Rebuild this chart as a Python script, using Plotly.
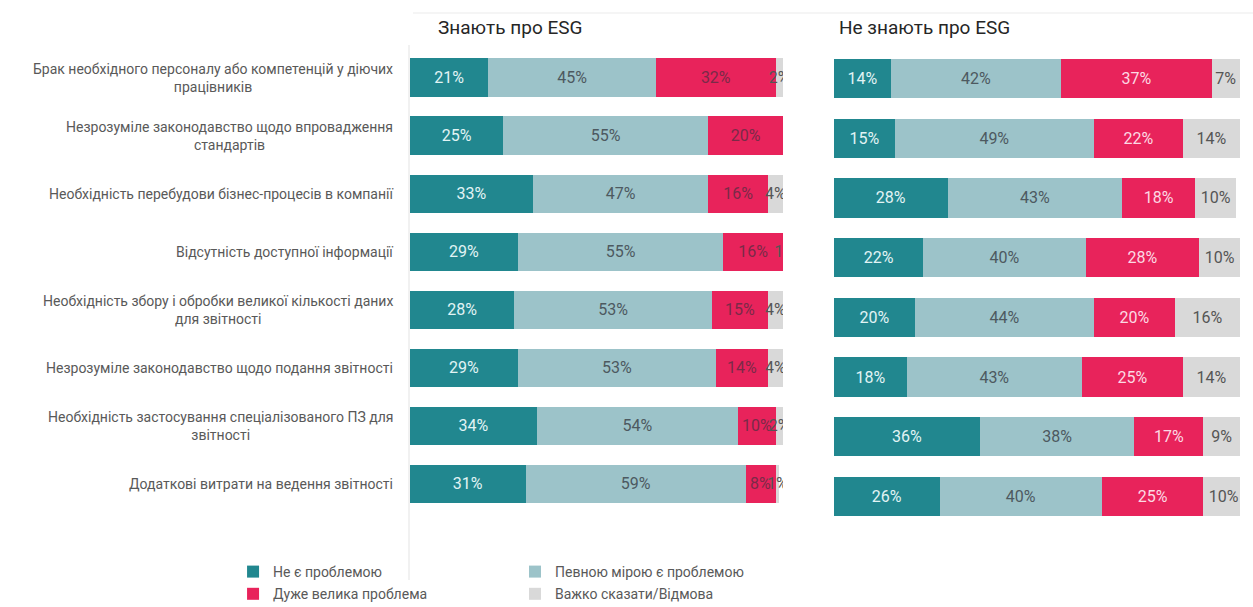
import plotly.graph_objects as go

# Survey: obstacles to ESG reporting, split by awareness of ESG
categories = [
    "Брак необхідного персоналу або компетенцій у діючих<br>працівників",
    "Незрозуміле законодавство щодо впровадження<br>стандартів",
    "Необхідність перебудови бізнес-процесів в компанії",
    "Відсутність доступної інформації",
    "Необхідність збору і обробки великої кількості даних<br>для звітності",
    "Незрозуміле законодавство щодо подання звітності",
    "Необхідність застосування спеціалізованого ПЗ для<br>звітності",
    "Додаткові витрати на ведення звітності",
]

series_names = [
    "Не є проблемою",
    "Певною мірою є проблемою",
    "Дуже велика проблема",
    "Важко сказати/Відмова",
]

panel_titles = ["Знають про ESG", "Не знають про ESG"]

# Aware of ESG (%)
aware_not_problem = [21, 25, 33, 29, 28, 29, 34, 31]
aware_partly = [45, 55, 47, 55, 53, 53, 54, 59]
aware_big = [32, 20, 16, 16, 15, 14, 10, 8]
aware_hard = [2, 0, 4, 1, 4, 4, 2, 1]

# Not aware of ESG (%)
unaware_not_problem = [14, 15, 28, 22, 20, 18, 36, 26]
unaware_partly = [42, 49, 43, 40, 44, 43, 38, 40]
unaware_big = [37, 22, 18, 28, 20, 25, 17, 25]
unaware_hard = [7, 14, 10, 10, 16, 14, 9, 10]

colors = ["#21878f", "#9cc3c9", "#e8235b", "#d9d9d9"]
text_colors_left = ["#e2f4f5", "#4d5960", "#7a2a48", "#555555"]
text_colors_right = ["#e2f4f5", "#4d5960", "#fcd9e3", "#555555"]

FONT = "Roboto, 'Open Sans', sans-serif"
W, H = 1253, 607


def px_x(px):
    """Paper x fraction for a pixel column."""
    return px / W


def py(px):
    """Paper y fraction for a pixel row measured from the top."""
    return 1 - px / H


fig = go.Figure()

panels = [
    ([aware_not_problem, aware_partly, aware_big, aware_hard], "x", "y", text_colors_left, True),
    ([unaware_not_problem, unaware_partly, unaware_big, unaware_hard], "x2", "y2", text_colors_right, False),
]

legend_ids = ["legend", "legend2", "legend", "legend2"]

for values, xa, ya, tcolors, show in panels:
    for i, (name, vals) in enumerate(zip(series_names, values)):
        fig.add_trace(go.Bar(
            y=categories,
            x=vals,
            name=name,
            orientation="h",
            marker=dict(color=colors[i], line=dict(width=0)),
            text=[f"{v}%" if v > 0 else "" for v in vals],
            textposition="inside",
            insidetextanchor="middle",
            constraintext="none",
            textangle=0,
            textfont=dict(family=FONT, size=16, color=tcolors[i]),
            width=0.66,
            xaxis=xa,
            yaxis=ya,
            showlegend=show,
            legend=legend_ids[i],
            legendgroup=f"g{i}",
            hoverinfo="skip",
        ))

fig.update_layout(
    width=W,
    height=H,
    margin=dict(l=0, r=0, t=0, b=0, autoexpand=False),
    paper_bgcolor="white",
    plot_bgcolor="white",
    barmode="stack",
    font=dict(family=FONT, color="#595959"),
    xaxis=dict(domain=[px_x(410), px_x(783)], range=[0, 100], visible=False, fixedrange=True),
    xaxis2=dict(domain=[px_x(834), px_x(1240)], range=[0, 100], visible=False, fixedrange=True),
    yaxis=dict(domain=[py(513.0), py(48.5)], autorange="reversed", visible=False,
               categoryorder="array", categoryarray=categories, anchor="x"),
    yaxis2=dict(domain=[py(526.3), py(48.7)], autorange="reversed", visible=False,
                categoryorder="array", categoryarray=categories, anchor="x2"),
    legend=dict(x=0.186, y=py(556), xanchor="left", yanchor="top", orientation="v",
                font=dict(family=FONT, size=14, color="#595959"),
                tracegroupgap=1, bgcolor="rgba(0,0,0,0)"),
    legend2=dict(x=0.411, y=py(556), xanchor="left", yanchor="top", orientation="v",
                 font=dict(family=FONT, size=14, color="#595959"),
                 tracegroupgap=1, bgcolor="rgba(0,0,0,0)"),
    showlegend=True,
)

# Category labels, centred multi-line text right-anchored at the left panel
for cat in categories:
    fig.add_annotation(
        x=px_x(395), xref="paper", xanchor="right",
        y=cat, yref="y", yanchor="middle",
        text=cat, align="center", showarrow=False,
        font=dict(family=FONT, size=14, color="#595959"),
    )

# Panel titles
for title, x in zip(panel_titles, [436, 837]):
    fig.add_annotation(
        x=px_x(x), xref="paper", xanchor="left",
        y=py(27), yref="paper", yanchor="middle",
        text=title, showarrow=False,
        font=dict(family=FONT, size=19, color="#262626"),
    )

# Category axis line of the left panel and a faint rule at the top
fig.add_shape(type="line", xref="paper", yref="paper",
              x0=px_x(409), x1=px_x(409), y0=py(45), y1=py(580),
              line=dict(color="#e3e3e3", width=1))
fig.add_shape(type="line", xref="paper", yref="paper",
              x0=px_x(413), x1=1, y0=py(13), y1=py(13),
              line=dict(color="#f5f5f5", width=2))

fig.write_html("out.html")
